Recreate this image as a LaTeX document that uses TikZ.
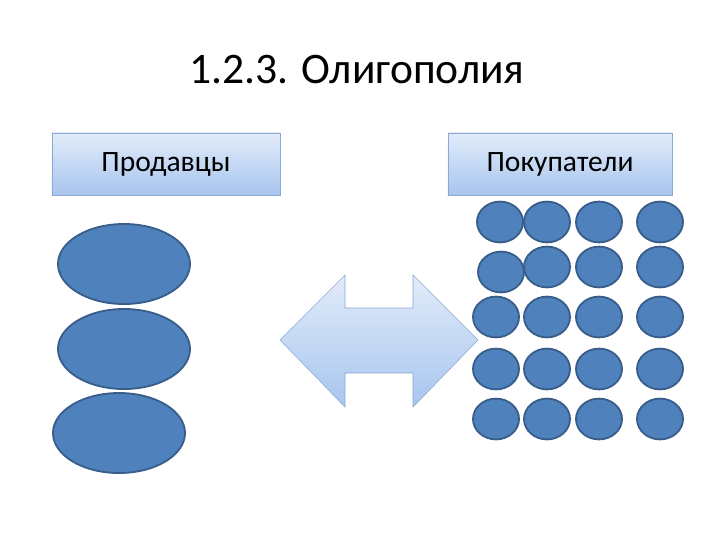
\documentclass[tikz,border=0pt]{standalone}
\usepackage{fontspec}
\setmainfont{Carlito}
\usetikzlibrary{shapes.geometric}
\definecolor{fillc}{HTML}{4F81BD}
\definecolor{edgec}{HTML}{385D8A}
\definecolor{paletop}{HTML}{E2ECFA}
\definecolor{palebot}{HTML}{A7C5EE}
\definecolor{paleedge}{HTML}{8DA8D2}
\tikzset{
  headbox/.style={draw=paleedge,top color=paletop,bottom color=palebot,minimum height=1.55cm,inner sep=0pt,font=\fontsize{21}{25}\selectfont},
  seller/.style={ellipse,draw=edgec,line width=1.3pt,fill=fillc,minimum width=3.3cm,minimum height=2cm,inner sep=0pt},
  buyer/.style={ellipse,draw=edgec,line width=1.3pt,fill=fillc,minimum width=1.15cm,minimum height=1.02cm,inner sep=0pt}
}
\begin{document}
\begin{tikzpicture}[x=0.025cm,y=-0.025cm]
\useasboundingbox (0,0) rectangle (720,540);
% title
\node[font=\fontsize{31}{36}\selectfont] (title) at (357,70) {1.2.3. Олигополия};
% headers
\node[headbox,minimum width=5.7cm] (sellers) at (166,164) {Продавцы};
\node[headbox,minimum width=5.6cm] (buyers) at (560,164) {Покупатели};
% sellers
\node[seller] (s1) at (124,264) {};
\node[seller] (s2) at (124,349) {};
\node[seller] (s3) at (119,433) {};
% two-way arrow
\shade[top color=paletop,bottom color=palebot,draw=paleedge]
  (280,340) -- (345,275) -- (345,308) -- (413,308) -- (413,275) -- (478,340)
  -- (413,407) -- (413,373) -- (345,373) -- (345,407) -- cycle;
% buyers
\foreach \r/\y/\xa/\ya in {1/222/500/222,2/267/501/272,3/317/496/317,4/369/496/369,5/419/496/419}{
  \node[buyer] (b\r-1) at (\xa,\ya) {};
  \foreach \c/\x in {2/547,3/599,4/660}
    \node[buyer] (b\r-\c) at (\x,\y) {};
}
\end{tikzpicture}
\end{document}
